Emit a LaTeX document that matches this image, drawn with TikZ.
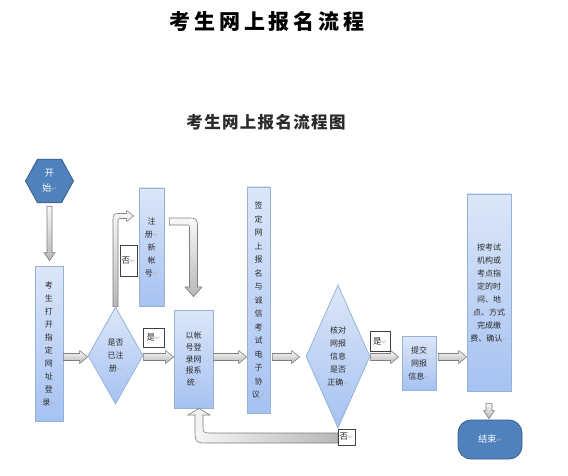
\documentclass[tikz,border=0pt]{standalone}
\usepackage{fontspec}
\usetikzlibrary{shapes.geometric,calc}
\newfontfamily\cjk{Noto Sans CJK SC}
\newfontfamily\dvs{DejaVu Sans}
\newcommand\pmark{{\dvs\fontsize{6.5}{6}\selectfont\textcolor{gray!60}{↵}}}
\definecolor{boxtop}{HTML}{DCE6F8}
\definecolor{boxbot}{HTML}{A6C2F2}
\definecolor{boxline}{HTML}{95B3D7}
\definecolor{darkfill}{HTML}{4F81BD}
\definecolor{darkline}{HTML}{385D8A}
\definecolor{arrline}{HTML}{7F7F7F}
\definecolor{arrlight}{HTML}{F8F8F8}
\definecolor{arrdark}{HTML}{B8B8B8}
\definecolor{txt}{HTML}{2B2B2B}
\tikzset{
 bluebox/.style={rectangle, draw=boxline, line width=0.8pt, top color=boxtop, bottom color=boxbot, inner sep=0pt, align=center, text=txt, font=\cjk\fontsize{8}{13}\selectfont},
 bluedia/.style={diamond, aspect=0.45, draw=boxline, line width=0.8pt, top color=boxtop, bottom color=boxbot, inner sep=0pt, align=center, text=txt, font=\cjk\fontsize{8}{13}\selectfont},
 darknode/.style={draw=darkline, line width=0.8pt, fill=darkfill, text=white, align=center, inner sep=0pt, font=\cjk\fontsize{9}{14}\selectfont},
 tag/.style={rectangle, draw=black!75, line width=0.6pt, fill=white, inner sep=0pt, text=txt, font=\cjk\fontsize{8.5}{10}\selectfont},
 blockarrow/.style={draw=arrline, line width=0.6pt, top color=arrlight, bottom color=arrdark},
}
% vertical block arrow: #1 from, #2 to, #3 start gap, #4 end gap, #5 shaft half width, #6 head half width
\newcommand\varrow[6]{%
 \path[blockarrow] let \p1=#1, \p2=#2 in
  (\x1-#5,\y1-#3) -- (\x1-#5,\y2+#4+8pt) -- (\x1-#6,\y2+#4+8pt) -- (\x1,\y2+#4)
  -- (\x1+#6,\y2+#4+8pt) -- (\x1+#5,\y2+#4+8pt) -- (\x1+#5,\y1-#3) -- cycle;}
% horizontal block arrow: #1 from, #2 to, #3 start gap, #4 end gap
\newcommand\harrow[4]{%
 \path[blockarrow] let \p1=#1, \p2=#2 in
  (\x1+#3,\y1+3.5pt) -- (\x2-#4-8pt,\y1+3.5pt) -- (\x2-#4-8pt,\y1+6.5pt) -- (\x2-#4,\y1)
  -- (\x2-#4-8pt,\y1-6.5pt) -- (\x2-#4-8pt,\y1-3.5pt) -- (\x1+#3,\y1-3.5pt) -- cycle;}
\begin{document}
\begin{tikzpicture}[x=1pt,y=-1pt]
\fill[white] (0,0) rectangle (568,476);
\useasboundingbox (0,0) rectangle (568,476);
\coordinate (row) at (0,357);

\node[font=\cjk\bfseries\fontsize{21}{21}\selectfont\addfontfeature{LetterSpace=18}] (title) at (267,22) {考生网上报名流程};
\node[font=\cjk\bfseries\fontsize{16.5}{17}\selectfont\addfontfeature{LetterSpace=8}, text=txt] (subtitle) at (266,122) {考生网上报名流程图};

\node[regular polygon, regular polygon sides=6, minimum size=48pt, yscale=1.05, darknode] (start) at (49.5,181) {开\\始\pmark};
\node[bluebox, minimum width=28pt, minimum height=155pt] (b1) at (49,343.5) {考\\生\\打\\开\\指\\定\\网\\址\\登\\录\pmark};
\node[bluedia, minimum width=55pt, minimum height=97pt] (d1) at (115.5,355.5) {是否\\已注\\册\pmark};
\node[bluebox, minimum width=25pt, minimum height=118pt] (b2) at (151.5,247) {注\\册\pmark\\新\\帐\\号\pmark};
\node[bluebox, minimum width=39pt, minimum height=98pt, font=\cjk\fontsize{8}{11.7}\selectfont] (b3) at (193.5,359) {以帐\\号登\\录网\\报系\\统\pmark};
\node[bluebox, minimum width=23pt, minimum height=226pt, font=\cjk\fontsize{8}{13.5}\selectfont] (b4) at (258.5,300) {签\\定\\网\\上\\报\\名\\与\\诚\\信\\考\\试\\电\\子\\协\\议\pmark};
\node[bluedia, minimum width=64pt, minimum height=143pt] (d2) at (338,356.5) {核对\\网报\\信息\\是否\\正确\pmark};
\node[bluebox, minimum width=34pt, minimum height=54pt] (b5) at (419,363) {提交\\网报\\信息\pmark};
\node[bluebox, minimum width=44pt, minimum height=197pt] (b6) at (489,292.5) {按考试\\机构或\\考点指\\定的时\\间、地\\点、方式\\完成缴\\费、确认\pmark};
\node[rectangle, rounded corners=13pt, minimum width=64pt, minimum height=39pt, darknode] (end) at (490,439.5) {结束\pmark};

% straight block arrows
\varrow{(start.south)}{(b1.north)}{3pt}{5pt}{2.5pt}{5.5pt}
\varrow{(b6.south)}{(end.north)}{12pt}{1pt}{3pt}{5.5pt}
\harrow{(b1.east |- row)}{(d1.west |- row)}{0pt}{0pt}
\harrow{(d1.east |- row)}{(b3.west |- row)}{0pt}{0pt}
\harrow{(b3.east |- row)}{(b4.west |- row)}{0pt}{0pt}
\harrow{(b4.east |- row)}{(d2.west |- row)}{2pt}{6pt}
\harrow{(d2.east |- row)}{(b5.west |- row)}{0pt}{3pt}
\harrow{(b5.east |- row)}{(b6.west |- row)}{2pt}{0pt}

% bent arrow: not registered -> register
\path[blockarrow] let \p1=(d1.north), \p2=(b2.west) in
 (\x1-2.5pt,\y1) -- (\x1-2.5pt,-222pt) .. controls (\x1-2.5pt,-213.5pt) .. (\x1+6pt,-213.5pt)
 -- (\x2-12pt,-213.5pt) -- (\x2-12pt,-210.5pt) -- (\x2-5pt,-216pt) -- (\x2-12pt,-221.5pt)
 -- (\x2-12pt,-218.5pt) -- (\x1+6pt,-218.5pt) .. controls (\x1+2.5pt,-218.5pt) .. (\x1+2.5pt,-222pt)
 -- (\x1+2.5pt,\y1) -- cycle;
% bent arrow: register -> login
\path[blockarrow] let \p1=(b2.east), \p2=(b3.north) in
 (\x1+5pt,-218pt) -- (\x2-7pt,-218pt) .. controls (\x2+4pt,-218pt) .. (\x2+4pt,-229pt)
 -- (\x2+4pt,-287pt) -- (\x2+8.5pt,-287pt) -- (\x2,\y2+13pt) -- (\x2-8.5pt,-287pt)
 -- (\x2-4pt,-287pt) -- (\x2-4pt,-229pt) .. controls (\x2-4pt,-225pt) .. (\x2-8pt,-225pt)
 -- (\x1+5pt,-225pt) -- cycle;
% bent arrow: info wrong -> back to login
\path[blockarrow, left color=arrlight, right color=arrdark] let \p1=(d2.south), \p2=(b3.south) in
 (\x1,-433pt) -- (\x2+18pt,-433pt) .. controls (\x2+9.5pt,-433pt) .. (\x2+9.5pt,-424pt)
 -- (\x2+9.5pt,-415pt) -- (\x2+16.5pt,-415pt) -- (\x2+5.5pt,\y2) -- (\x2-5.5pt,-415pt)
 -- (\x2+1.5pt,-415pt) -- (\x2+1.5pt,-428pt) .. controls (\x2+1.5pt,-443pt) .. (\x2+16.5pt,-443pt)
 -- (\x1,-443pt) -- cycle;

% labels
\node[tag, minimum width=21pt, minimum height=19pt] (yes1) at (153.5,337.5) {是\pmark};
\node[tag, minimum width=17pt, minimum height=31pt] (no1) at (128.5,260.5) {否\pmark};
\node[tag, minimum width=20pt, minimum height=20pt] (yes2) at (380,341) {是\pmark};
\node[tag, minimum width=17pt, minimum height=16pt] (no2) at (346.5,437) {否\pmark};
\end{tikzpicture}
\end{document}
